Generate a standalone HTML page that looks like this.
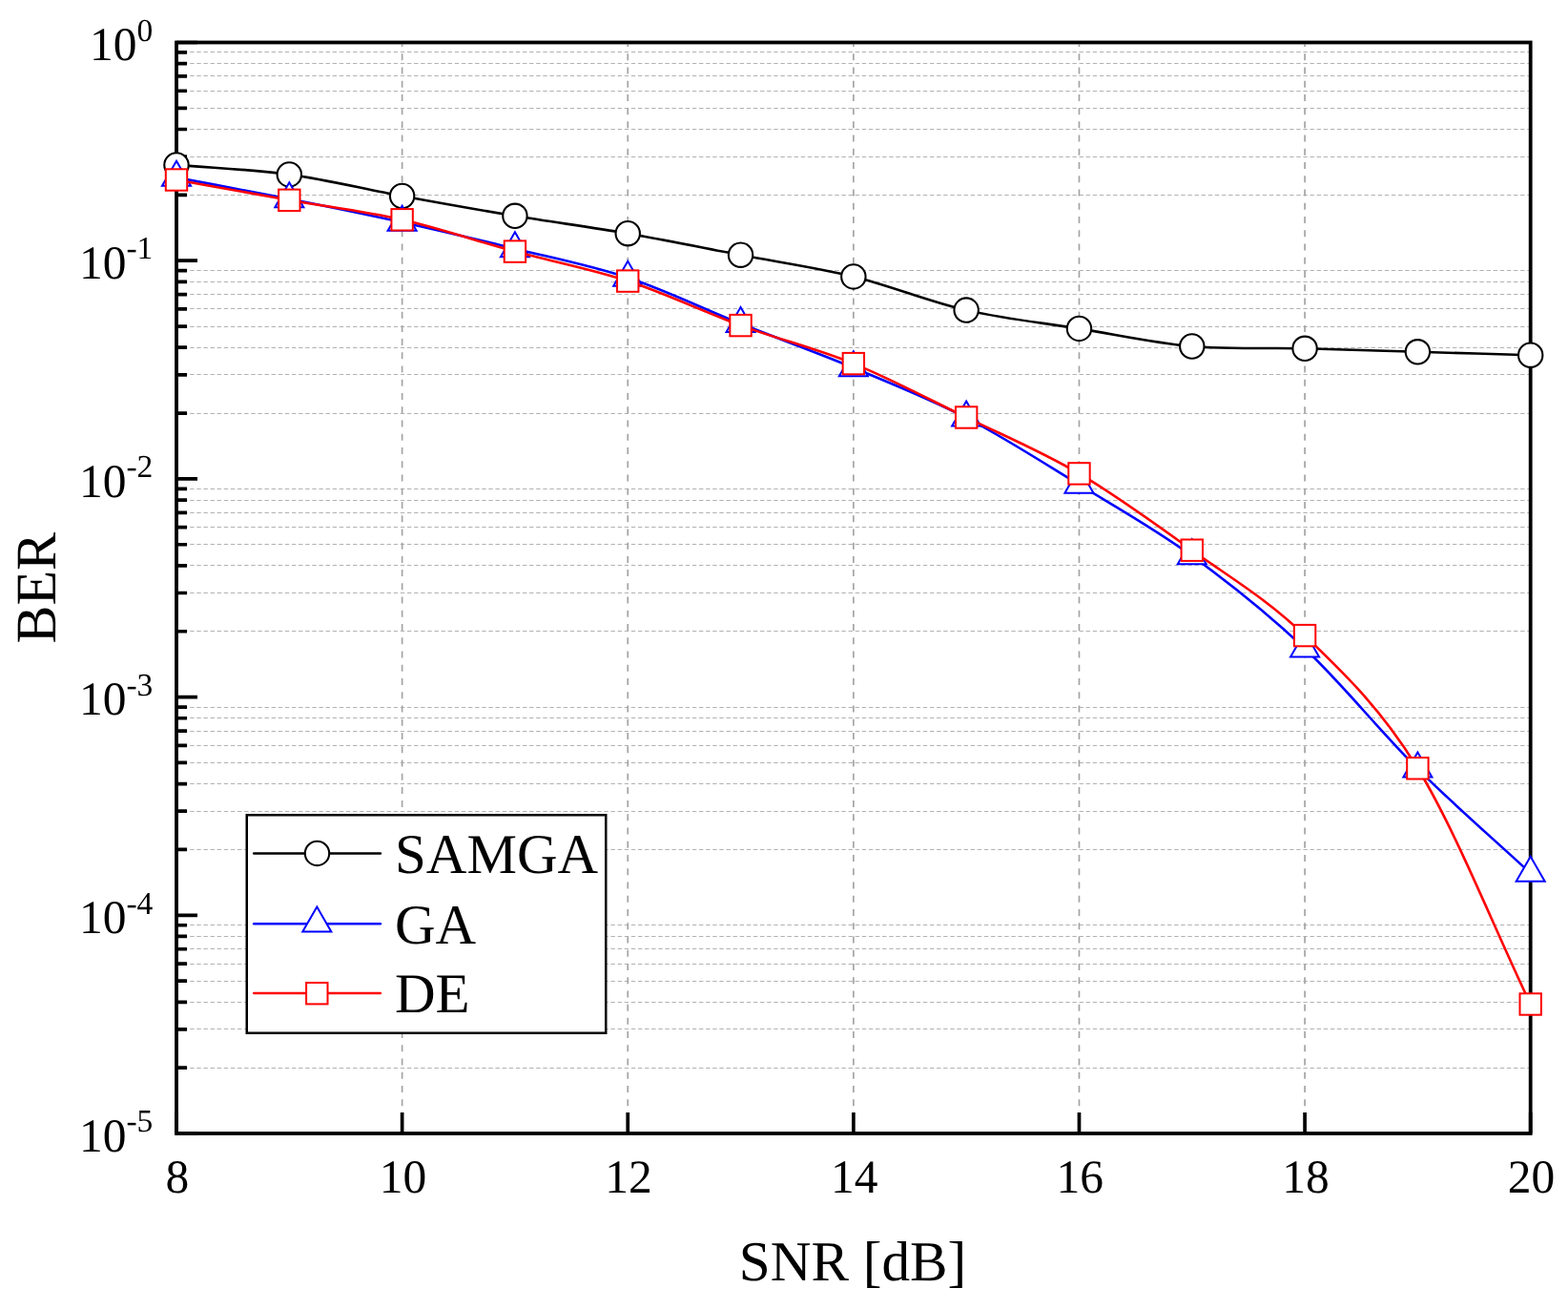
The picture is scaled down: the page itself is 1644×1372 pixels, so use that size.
<!DOCTYPE html>
<html><head><meta charset="utf-8"><title>BER vs SNR</title>
<style>html,body{margin:0;padding:0;background:#fff;} svg{display:block;}</style>
</head><body>
<svg width="1644" height="1372" viewBox="0 0 1644 1372" font-family="'Liberation Serif', 'Times New Roman', serif" text-rendering="geometricPrecision">
<rect x="0" y="0" width="1644" height="1372" fill="#fff"/>
<path d="M187.0,1119.50H1603.2 M187.0,1078.50H1603.2 M187.0,1050.50H1603.2 M187.0,1028.50H1603.2 M187.0,1010.50H1603.2 M187.0,994.50H1603.2 M187.0,981.50H1603.2 M187.0,969.50H1603.2 M187.0,890.50H1603.2 M187.0,850.50H1603.2 M187.0,821.50H1603.2 M187.0,799.50H1603.2 M187.0,781.50H1603.2 M187.0,766.50H1603.2 M187.0,752.50H1603.2 M187.0,741.50H1603.2 M187.0,661.50H1603.2 M187.0,621.50H1603.2 M187.0,592.50H1603.2 M187.0,570.50H1603.2 M187.0,552.50H1603.2 M187.0,537.50H1603.2 M187.0,524.50H1603.2 M187.0,512.50H1603.2 M187.0,433.50H1603.2 M187.0,392.50H1603.2 M187.0,364.50H1603.2 M187.0,342.50H1603.2 M187.0,323.50H1603.2 M187.0,308.50H1603.2 M187.0,295.50H1603.2 M187.0,283.50H1603.2 M187.0,204.50H1603.2 M187.0,164.50H1603.2 M187.0,135.50H1603.2 M187.0,113.50H1603.2 M187.0,95.50H1603.2 M187.0,79.50H1603.2 M187.0,66.50H1603.2 M187.0,54.50H1603.2" stroke="#b2b2b2" stroke-width="1" stroke-dasharray="4.4 2.717" stroke-dashoffset="2.03" fill="none"/>
<path d="M421.62,46.5V1186.0 M658.23,46.5V1186.0 M894.85,46.5V1186.0 M1131.47,46.5V1186.0 M1368.08,46.5V1186.0" stroke="#a4a4a4" stroke-width="1.7" stroke-dasharray="7 7.235" stroke-dashoffset="4.55" fill="none"/>
<path d="M185.0,1188.00H207.0 M185.0,959.30H207.0 M185.0,730.60H207.0 M185.0,501.90H207.0 M185.0,273.20H207.0 M185.0,44.50H207.0 M185.0,1119.15H196.0 M185.0,1078.88H196.0 M185.0,1050.31H196.0 M185.0,1028.15H196.0 M185.0,1010.04H196.0 M185.0,994.73H196.0 M185.0,981.46H196.0 M185.0,969.76H196.0 M185.0,890.45H196.0 M185.0,850.18H196.0 M185.0,821.61H196.0 M185.0,799.45H196.0 M185.0,781.34H196.0 M185.0,766.03H196.0 M185.0,752.76H196.0 M185.0,741.06H196.0 M185.0,661.75H196.0 M185.0,621.48H196.0 M185.0,592.91H196.0 M185.0,570.75H196.0 M185.0,552.64H196.0 M185.0,537.33H196.0 M185.0,524.06H196.0 M185.0,512.36H196.0 M185.0,433.05H196.0 M185.0,392.78H196.0 M185.0,364.21H196.0 M185.0,342.05H196.0 M185.0,323.94H196.0 M185.0,308.63H196.0 M185.0,295.36H196.0 M185.0,283.66H196.0 M185.0,204.35H196.0 M185.0,164.08H196.0 M185.0,135.51H196.0 M185.0,113.35H196.0 M185.0,95.24H196.0 M185.0,79.93H196.0 M185.0,66.66H196.0 M185.0,54.96H196.0 M185.00,1188.0V1166.0 M421.62,1188.0V1166.0 M658.23,1188.0V1166.0 M894.85,1188.0V1166.0 M1131.47,1188.0V1166.0 M1368.08,1188.0V1166.0 M1604.70,1188.0V1166.0" stroke="#000" stroke-width="3.7" fill="none"/>
<rect x="185.00" y="44.50" width="1419.70" height="1143.50" fill="none" stroke="#000" stroke-width="3.8"/>
<path d="M185.00,172.90 C224.44,176.23 263.87,177.47 303.31,182.90 C342.74,188.33 382.18,198.27 421.62,205.50 C461.05,212.73 500.49,219.77 539.92,226.30 C579.36,232.83 618.80,237.88 658.23,244.70 C697.67,251.52 737.11,259.67 776.54,267.20 C815.98,274.73 855.41,280.25 894.85,289.90 C934.29,299.55 973.72,316.02 1013.16,325.10 C1052.59,334.18 1092.03,338.08 1131.47,344.40 C1170.90,350.72 1210.34,359.52 1249.78,363.00 C1289.21,366.48 1328.65,364.33 1368.08,365.30 C1407.52,366.27 1446.96,367.65 1486.39,368.80 C1525.83,369.95 1565.26,371.07 1604.70,372.20" stroke="#000" stroke-width="2.6" fill="none" stroke-linejoin="round"/>
<circle cx="185.00" cy="172.90" r="12.7" fill="#fff" stroke="#000" stroke-width="2.1"/>
<circle cx="303.31" cy="182.90" r="12.7" fill="#fff" stroke="#000" stroke-width="2.1"/>
<circle cx="421.62" cy="205.50" r="12.7" fill="#fff" stroke="#000" stroke-width="2.1"/>
<circle cx="539.92" cy="226.30" r="12.7" fill="#fff" stroke="#000" stroke-width="2.1"/>
<circle cx="658.23" cy="244.70" r="12.7" fill="#fff" stroke="#000" stroke-width="2.1"/>
<circle cx="776.54" cy="267.20" r="12.7" fill="#fff" stroke="#000" stroke-width="2.1"/>
<circle cx="894.85" cy="289.90" r="12.7" fill="#fff" stroke="#000" stroke-width="2.1"/>
<circle cx="1013.16" cy="325.10" r="12.7" fill="#fff" stroke="#000" stroke-width="2.1"/>
<circle cx="1131.47" cy="344.40" r="12.7" fill="#fff" stroke="#000" stroke-width="2.1"/>
<circle cx="1249.78" cy="363.00" r="12.7" fill="#fff" stroke="#000" stroke-width="2.1"/>
<circle cx="1368.08" cy="365.30" r="12.7" fill="#fff" stroke="#000" stroke-width="2.1"/>
<circle cx="1486.39" cy="368.80" r="12.7" fill="#fff" stroke="#000" stroke-width="2.1"/>
<circle cx="1604.70" cy="372.20" r="12.7" fill="#fff" stroke="#000" stroke-width="2.1"/>
<path d="M185.00,186.10 C224.44,193.57 263.87,200.68 303.31,208.50 C342.74,216.32 382.18,224.30 421.62,233.00 C461.05,241.70 500.49,251.02 539.92,260.70 C579.36,270.38 618.80,278.00 658.23,291.10 C697.67,304.20 737.11,323.57 776.54,339.30 C815.98,355.03 855.41,369.07 894.85,385.50 C934.29,401.93 973.72,417.48 1013.16,437.90 C1052.59,458.32 1092.03,483.87 1131.47,508.00 C1170.90,532.13 1210.34,554.07 1249.78,582.70 C1289.21,611.33 1328.65,642.62 1368.08,679.80 C1407.52,716.98 1446.96,766.57 1486.39,805.80 C1525.83,845.03 1565.26,878.73 1604.70,915.20" stroke="#0000ff" stroke-width="2.6" fill="none" stroke-linejoin="round"/>
<path d="M185.00,168.77L200.01,194.77L169.99,194.77Z" fill="#fff" stroke="#0000ff" stroke-width="2.0"/>
<path d="M303.31,191.17L318.32,217.17L288.30,217.17Z" fill="#fff" stroke="#0000ff" stroke-width="2.0"/>
<path d="M421.62,215.67L436.63,241.67L406.61,241.67Z" fill="#fff" stroke="#0000ff" stroke-width="2.0"/>
<path d="M539.92,243.37L554.94,269.37L524.91,269.37Z" fill="#fff" stroke="#0000ff" stroke-width="2.0"/>
<path d="M658.23,273.77L673.24,299.77L643.22,299.77Z" fill="#fff" stroke="#0000ff" stroke-width="2.0"/>
<path d="M776.54,321.97L791.55,347.97L761.53,347.97Z" fill="#fff" stroke="#0000ff" stroke-width="2.0"/>
<path d="M894.85,368.17L909.86,394.17L879.84,394.17Z" fill="#fff" stroke="#0000ff" stroke-width="2.0"/>
<path d="M1013.16,420.57L1028.17,446.57L998.15,446.57Z" fill="#fff" stroke="#0000ff" stroke-width="2.0"/>
<path d="M1131.47,490.67L1146.48,516.67L1116.46,516.67Z" fill="#fff" stroke="#0000ff" stroke-width="2.0"/>
<path d="M1249.78,565.37L1264.79,591.37L1234.76,591.37Z" fill="#fff" stroke="#0000ff" stroke-width="2.0"/>
<path d="M1368.08,662.47L1383.09,688.47L1353.07,688.47Z" fill="#fff" stroke="#0000ff" stroke-width="2.0"/>
<path d="M1486.39,788.47L1501.40,814.47L1471.38,814.47Z" fill="#fff" stroke="#0000ff" stroke-width="2.0"/>
<path d="M1604.70,897.87L1619.71,923.87L1589.69,923.87Z" fill="#fff" stroke="#0000ff" stroke-width="2.0"/>
<path d="M185.00,188.50 C224.44,195.60 263.87,202.83 303.31,209.80 C342.74,216.77 382.18,221.33 421.62,230.30 C461.05,239.27 500.49,252.88 539.92,263.60 C579.36,274.32 618.80,281.68 658.23,294.60 C697.67,307.52 737.11,326.68 776.54,341.10 C815.98,355.52 855.41,365.03 894.85,381.10 C934.29,397.17 973.72,418.28 1013.16,437.50 C1052.59,456.72 1092.03,473.20 1131.47,496.40 C1170.90,519.60 1210.34,548.42 1249.78,576.70 C1289.21,604.98 1328.65,628.00 1368.08,666.10 C1407.52,704.20 1446.96,740.90 1486.39,805.30 C1525.83,869.70 1565.26,970.10 1604.70,1052.50" stroke="#ff0000" stroke-width="2.6" fill="none" stroke-linejoin="round"/>
<rect x="173.80" y="177.30" width="22.40" height="22.40" fill="#fff" stroke="#ff0000" stroke-width="2.0"/>
<rect x="292.11" y="198.60" width="22.40" height="22.40" fill="#fff" stroke="#ff0000" stroke-width="2.0"/>
<rect x="410.42" y="219.10" width="22.40" height="22.40" fill="#fff" stroke="#ff0000" stroke-width="2.0"/>
<rect x="528.72" y="252.40" width="22.40" height="22.40" fill="#fff" stroke="#ff0000" stroke-width="2.0"/>
<rect x="647.03" y="283.40" width="22.40" height="22.40" fill="#fff" stroke="#ff0000" stroke-width="2.0"/>
<rect x="765.34" y="329.90" width="22.40" height="22.40" fill="#fff" stroke="#ff0000" stroke-width="2.0"/>
<rect x="883.65" y="369.90" width="22.40" height="22.40" fill="#fff" stroke="#ff0000" stroke-width="2.0"/>
<rect x="1001.96" y="426.30" width="22.40" height="22.40" fill="#fff" stroke="#ff0000" stroke-width="2.0"/>
<rect x="1120.27" y="485.20" width="22.40" height="22.40" fill="#fff" stroke="#ff0000" stroke-width="2.0"/>
<rect x="1238.58" y="565.50" width="22.40" height="22.40" fill="#fff" stroke="#ff0000" stroke-width="2.0"/>
<rect x="1356.88" y="654.90" width="22.40" height="22.40" fill="#fff" stroke="#ff0000" stroke-width="2.0"/>
<rect x="1475.19" y="794.10" width="22.40" height="22.40" fill="#fff" stroke="#ff0000" stroke-width="2.0"/>
<rect x="1593.50" y="1041.30" width="22.40" height="22.40" fill="#fff" stroke="#ff0000" stroke-width="2.0"/>
<text x="185.80" y="1249.6" font-size="49.5" text-anchor="middle">8</text>
<text x="422.42" y="1249.6" font-size="49.5" text-anchor="middle">10</text>
<text x="659.03" y="1249.6" font-size="49.5" text-anchor="middle">12</text>
<text x="895.65" y="1249.6" font-size="49.5" text-anchor="middle">14</text>
<text x="1132.27" y="1249.6" font-size="49.5" text-anchor="middle">16</text>
<text x="1368.88" y="1249.6" font-size="49.5" text-anchor="middle">18</text>
<text x="1605.50" y="1249.6" font-size="49.5" text-anchor="middle">20</text>
<text x="160.3" y="63.20" font-size="49.5" text-anchor="end">10<tspan font-size="33.5" dy="-20.5">0</tspan></text>
<text x="160.3" y="291.90" font-size="49.5" text-anchor="end">10<tspan font-size="33.5" dy="-20.5">-1</tspan></text>
<text x="160.3" y="520.60" font-size="49.5" text-anchor="end">10<tspan font-size="33.5" dy="-20.5">-2</tspan></text>
<text x="160.3" y="749.30" font-size="49.5" text-anchor="end">10<tspan font-size="33.5" dy="-20.5">-3</tspan></text>
<text x="160.3" y="978.00" font-size="49.5" text-anchor="end">10<tspan font-size="33.5" dy="-20.5">-4</tspan></text>
<text x="160.3" y="1206.70" font-size="49.5" text-anchor="end">10<tspan font-size="33.5" dy="-20.5">-5</tspan></text>
<text x="894.05" y="1341.7" font-size="59.2" text-anchor="middle">SNR [dB]</text>
<text transform="translate(57.5,616.25) rotate(-90)" font-size="60" text-anchor="middle">BER</text>
<rect x="258.75" y="854.25" width="376.5" height="228.5" fill="#fff" stroke="#000" stroke-width="2.5"/>
<path d="M266.2,894.4H398.9" stroke="#000" stroke-width="2.5" stroke-linecap="round" fill="none"/>
<circle cx="332.50" cy="894.40" r="12.7" fill="#fff" stroke="#000" stroke-width="2.1"/>
<text x="414" y="914.7" font-size="59">SAMGA</text>
<path d="M266.2,968.2H398.9" stroke="#0000ff" stroke-width="2.5" stroke-linecap="round" fill="none"/>
<path d="M332.30,950.47L347.31,976.47L317.29,976.47Z" fill="#fff" stroke="#0000ff" stroke-width="2.0"/>
<text x="414" y="988.5" font-size="59">GA</text>
<path d="M266.2,1041.0H398.9" stroke="#ff0000" stroke-width="2.5" stroke-linecap="round" fill="none"/>
<rect x="321.10" y="1030.00" width="22.40" height="22.40" fill="#fff" stroke="#ff0000" stroke-width="2.0"/>
<text x="414" y="1061.3" font-size="59">DE</text>
</svg>
</body></html>
